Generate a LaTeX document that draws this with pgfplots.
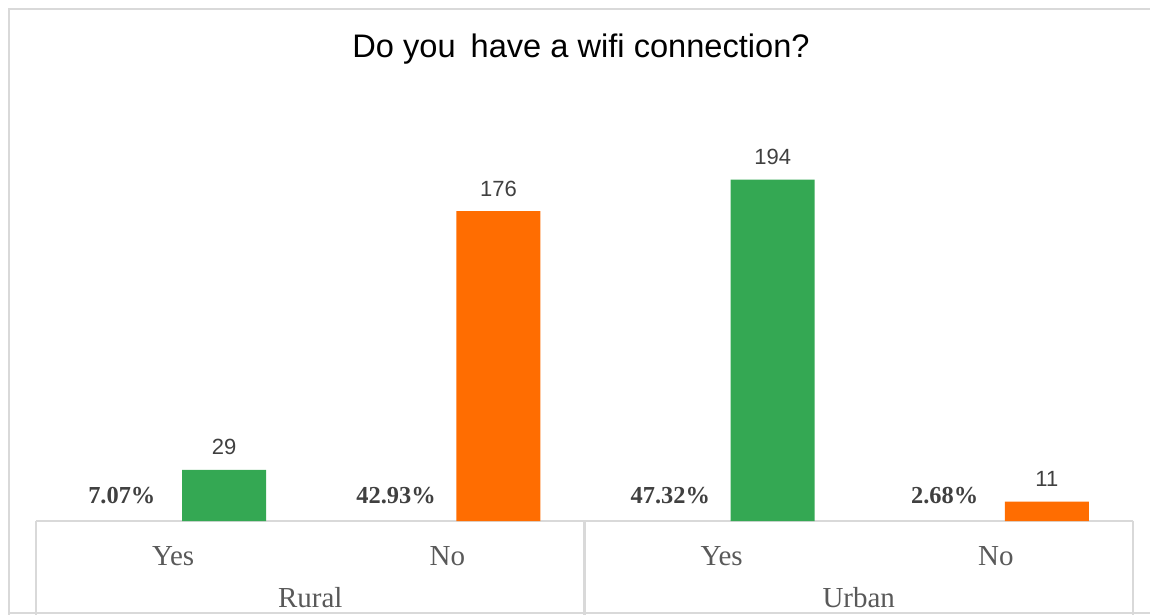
\documentclass[border=0pt]{standalone}
\usepackage{pgfplots}
\pgfplotsset{compat=1.18}
\usepackage{fontspec}
\setmainfont{Liberation Serif}
\newfontfamily\arial{Liberation Sans}
\definecolor{barGreen}{HTML}{34A853}
\definecolor{barOrange}{HTML}{FF6D01}
\definecolor{gridgray}{HTML}{D9D9D9}
\definecolor{lbl}{HTML}{404040}
\definecolor{cat}{HTML}{595959}
\begin{document}
\begin{tikzpicture}
\useasboundingbox (0,0) rectangle (575bp,307.5bp);
% outer frame
\draw[gridgray, line width=1.2bp] (4.5bp,-5bp) -- (4.5bp,303bp) -- (580bp,303bp);
\draw[gridgray, line width=0.8bp] (4.5bp,1bp) -- (580bp,1bp);
% category table
\draw[gridgray, line width=1.2bp] (18bp,47bp) -- (566.5bp,47bp);
\draw[gridgray, line width=1.2bp] (18bp,47bp) -- (18bp,-5bp);
\draw[gridgray, line width=1.2bp] (292.25bp,47bp) -- (292.25bp,-5bp);
\draw[gridgray, line width=1.2bp] (566.5bp,47bp) -- (566.5bp,-5bp);
% title
\node[anchor=base, inner sep=0, font=\arial\fontsize{16.3bp}{19bp}\selectfont] at (290.5bp,278.5bp) {Do you\hspace{3bp} have a wifi connection?};
\begin{axis}[
  at={(18bp,47bp)}, anchor=south west,
  width=548.5bp, height=176bp, scale only axis,
  xmin=-0.5, xmax=3.5, ymin=0, ymax=200,
  axis line style={draw=none},
  ytick=\empty,
  xtick={0,1,2,3},
  xticklabels={Yes,No,Yes,No},
  major tick length=0pt,
  xticklabel style={anchor=base, yshift=-22bp, inner sep=0, font=\fontsize{14.5bp}{17bp}\selectfont, text=cat},
  clip=false,
  /pgf/number format/assume math mode=true,
]
\addplot[ybar, bar shift=0pt, bar width=42bp, fill=barGreen, draw=none,
  nodes near coords,
  every node near coord/.append style={anchor=base, yshift=7.5bp, inner sep=0, font=\arial\fontsize{11bp}{13bp}\selectfont, text=lbl}]
  coordinates {(0.186,29) (2.186,194)};
\addplot[ybar, bar shift=0pt, bar width=42bp, fill=barOrange, draw=none,
  nodes near coords,
  every node near coord/.append style={anchor=base, yshift=7.5bp, inner sep=0, font=\arial\fontsize{11bp}{13bp}\selectfont, text=lbl}]
  coordinates {(1.186,176) (3.186,11)};
\addplot[draw=none, mark=none, point meta=explicit symbolic,
  nodes near coords,
  every node near coord/.append style={anchor=base, yshift=9bp, inner sep=0, font=\bfseries\fontsize{12.2bp}{14bp}\selectfont, text=lbl}]
  coordinates {(-0.187,0) [7.07\%] (0.813,0) [42.93\%] (1.813,0) [47.32\%] (2.813,0) [2.68\%]};
\node[anchor=base, inner sep=0, font=\fontsize{14.5bp}{17bp}\selectfont, text=cat, yshift=-43bp] at (axis cs:0.5,0) {Rural};
\node[anchor=base, inner sep=0, font=\fontsize{14.5bp}{17bp}\selectfont, text=cat, yshift=-43bp] at (axis cs:2.5,0) {Urban};
\end{axis}
\end{tikzpicture}
\end{document}
